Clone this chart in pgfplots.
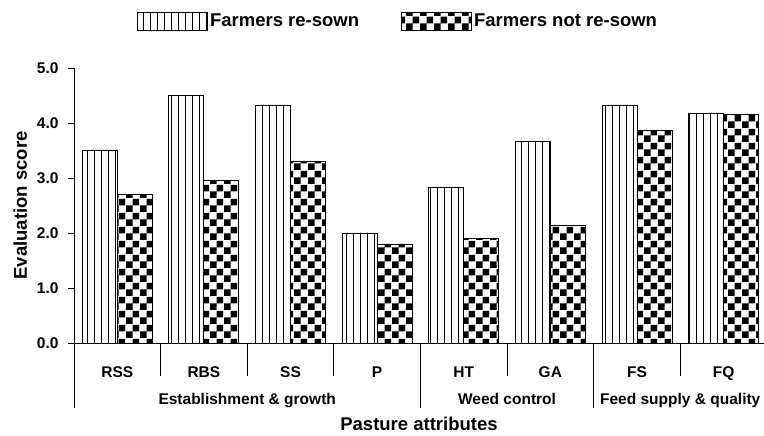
\documentclass[border=0pt]{standalone}
\usepackage{pgfplots}
\pgfplotsset{compat=1.18}
\usepackage{pgfplotstable}
\usepackage{fontspec}
\setmainfont{Liberation Sans}
\usetikzlibrary{patterns}

\pgfdeclarepatternformonly{vlines7}{\pgfqpoint{-1pt}{-1pt}}{\pgfqpoint{8pt}{8pt}}{\pgfqpoint{7pt}{7pt}}{%
  \pgfsetlinewidth{1.4pt}%
  \pgfpathmoveto{\pgfqpoint{3.5pt}{-1pt}}%
  \pgfpathlineto{\pgfqpoint{3.5pt}{8pt}}%
  \pgfusepath{stroke}}
\pgfdeclarepatternformonly{checker7}{\pgfpointorigin}{\pgfqpoint{14pt}{14pt}}{\pgfqpoint{14pt}{14pt}}{%
  \pgfpathrectangle{\pgfpointorigin}{\pgfqpoint{7pt}{7pt}}%
  \pgfpathrectangle{\pgfqpoint{7pt}{7pt}}{\pgfqpoint{7pt}{7pt}}%
  \pgfusepath{fill}}

\pgfplotstableread{
x re not
0 3.50 2.70
1 4.50 2.95
2 4.32 3.30
3 2.00 1.80
4 2.83 1.90
5 3.67 2.14
6 4.32 3.87
7 4.17 4.15
}\datatable

\newcommand{\tickfont}{\fontsize{15.5}{18}\selectfont\bfseries}
\newcommand{\titlefont}{\fontsize{18.5}{22}\selectfont\bfseries}

\begin{document}
\begin{tikzpicture}
\useasboundingbox (0,0) rectangle (764pt,436pt);
\begin{axis}[
  at={(74pt,93pt)}, anchor=south west,
  scale only axis, width=690pt, height=275pt,
  xmin=-0.5, xmax=7.467, ymin=0, ymax=5,
  axis x line*=bottom, axis y line*=left,
  axis line style={line width=0.8pt, -},
  ybar=0pt, bar width=35pt,
  xtick={0,...,7}, xticklabels={RSS,RBS,SS,P,HT,GA,FS,FQ},
  x tick style={draw=none},
  xticklabel style={font=\tickfont, anchor=base, yshift=-29pt},
  ytick={0,1,2,3,4,5},
  tick align=outside, major tick length=6pt,
  y tick style={line width=0.8pt, black},
  yticklabel style={font=\tickfont, xshift=-6pt},
  yticklabel={\pgfmathprintnumber[fixed,fixed zerofill,precision=1,assume math mode=true]{\tick}},
  ylabel={Evaluation score}, xlabel={Pasture attributes},
  label style={font=\titlefont},
  ylabel style={at={(axis description cs:-0.078,0.5)}, anchor=center},
  xlabel style={at={(axis description cs:0.5,0)}, anchor=base, yshift=-88pt},
  clip=false,
  legend columns=2,
  legend style={at={(axis description cs:0.0913,1)}, anchor=south west, yshift=35pt, draw=none,
    inner xsep=0pt, font=\titlefont,
    /tikz/every even column/.append style={column sep=40pt}},
  legend image code/.code={\draw[#1] (0pt,-9pt) rectangle (70pt,9pt);},
]
\addplot[draw=black, line width=0.9pt, pattern=vlines7] table[x=x,y=re]{\datatable};
\addplot[draw=black, line width=0.9pt, pattern=checker7] table[x=x,y=not]{\datatable};
\legend{Farmers re-sown, Farmers not re-sown}
\pgfplotsinvokeforeach{0.5,1.5,2.5,4.5,6.5}{\draw[line width=0.8pt] (axis cs:#1,0) -- ++(0pt,-33pt);}
\pgfplotsinvokeforeach{-0.5,3.5,5.5}{\draw[line width=0.8pt] (axis cs:#1,0) -- ++(0pt,-65pt);}
\node[font=\tickfont, anchor=base, yshift=-61.5pt] at (axis cs:1.5,0) {Establishment \& growth};
\node[font=\tickfont, anchor=base, yshift=-61.5pt] at (axis cs:4.5,0) {Weed control};
\node[font=\tickfont, anchor=base, yshift=-61.5pt] at (axis cs:6.5,0) {Feed supply \& quality};
\end{axis}
\end{tikzpicture}
\end{document}
